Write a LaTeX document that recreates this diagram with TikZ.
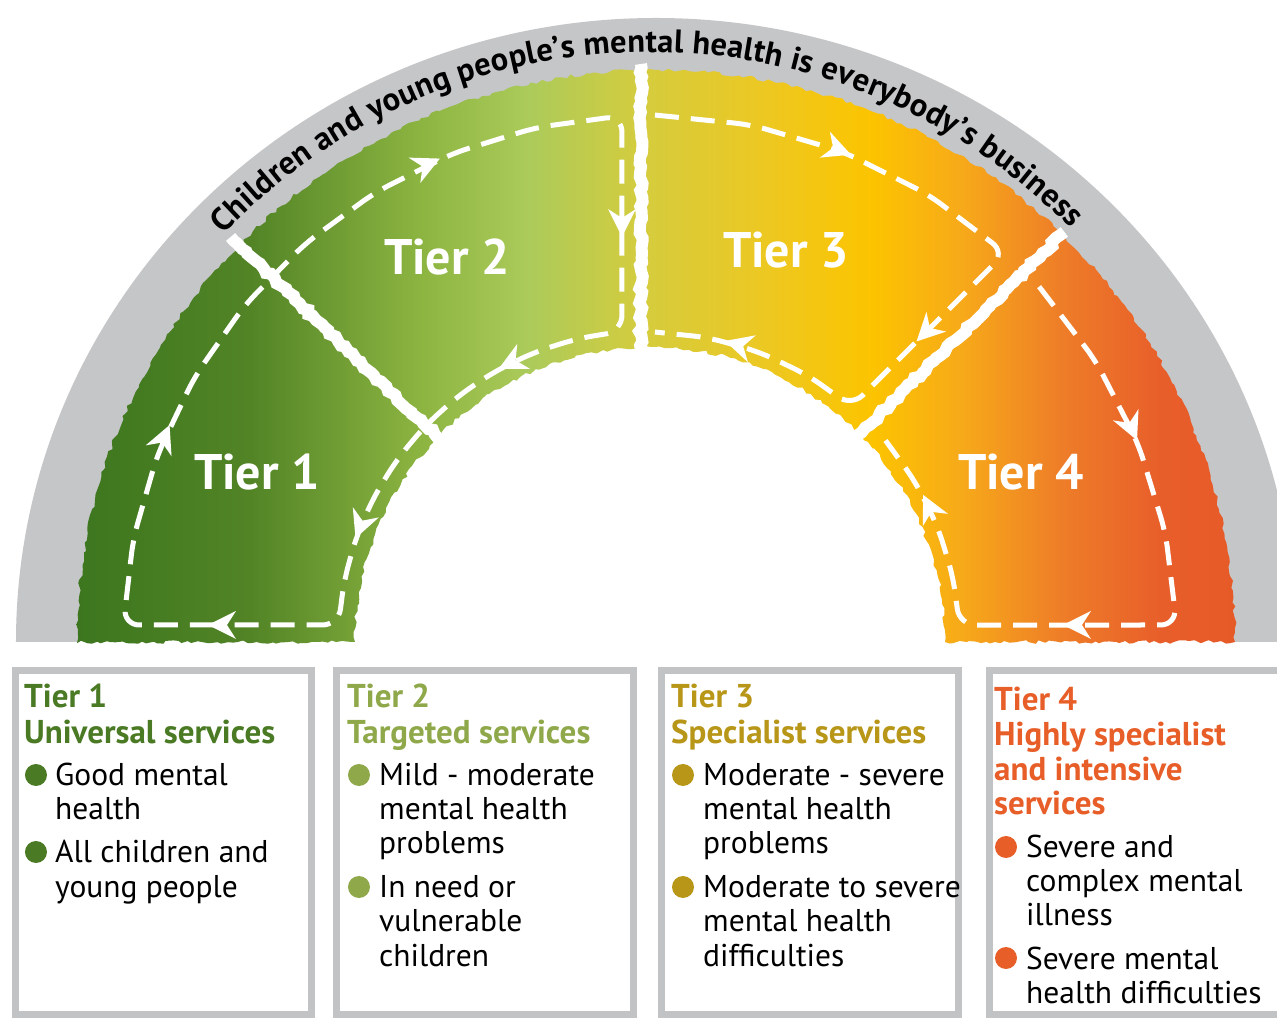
\documentclass[tikz,border=0pt]{standalone}
\usepackage{fontspec}
\setmainfont{PT Sans}
\usetikzlibrary{decorations.text,decorations.pathmorphing}
\definecolor{c0}{RGB}{60,118,30}
\definecolor{c1}{RGB}{82,132,38}
\definecolor{c2}{RGB}{140,180,65}
\definecolor{c3}{RGB}{172,203,90}
\definecolor{c4}{RGB}{212,204,62}
\definecolor{c5}{RGB}{236,200,35}
\definecolor{c6}{RGB}{252,196,0}
\definecolor{c7}{RGB}{247,170,25}
\definecolor{c8}{RGB}{238,125,40}
\definecolor{c9}{RGB}{232,94,42}
\definecolor{c10}{RGB}{230,90,40}
\definecolor{bandgray}{RGB}{197,198,200}
\definecolor{boxgray}{RGB}{194,195,197}
\definecolor{tonecol}{RGB}{74,122,35}
\definecolor{ttwocol}{RGB}{143,168,74}
\definecolor{tthreecol}{RGB}{184,150,24}
\definecolor{tfourcol}{RGB}{232,94,40}
\pgfdeclarehorizontalshading{tiershade}{100bp}{color(0bp)=(c0); color(25bp)=(c0); color(32.47bp)=(c1); color(39.81bp)=(c2); color(44.56bp)=(c3); color(49.31bp)=(c4); color(54.49bp)=(c5); color(59.24bp)=(c6); color(63.13bp)=(c7); color(67.44bp)=(c8); color(71.76bp)=(c9); color(75bp)=(c10); color(100bp)=(c10)}
\tikzset{
  divider/.style={white, line width=12pt},
  loopline/.style={white, line width=5pt, dash pattern=on 24pt off 12pt, rounded corners=16pt},
  arrowhd/.pic={\fill[white] (12,0) -- (-16,14) -- (-7,0) -- (-16,-14) -- cycle;},
  tierlabel/.style={white, font=\fontsize{50}{50}\selectfont\bfseries, inner sep=0},
  boxline/.style={boxgray, line width=7pt},
  headtxt/.style={anchor=base west, inner sep=0, font=\fontsize{33}{33}\selectfont\bfseries},
  bodytxt/.style={anchor=base west, inner sep=0, font=\fontsize{31.5}{31.5}\selectfont},
  rough/.style={decorate, decoration={random steps, segment length=5pt, amplitude=1.8pt}},
}
\begin{document}
\begin{tikzpicture}[x=1pt,y=1pt]
\clip (-650,-377) rectangle (627,642);
\fill[white] (-650,-377) rectangle (627,642);
% grey band
\fill[bandgray] (575,0) -- (646,0) arc[start angle=0,end angle=180,x radius=640,y radius=624] -- (-570,0) arc[start angle=180,end angle=0,x radius=576,y radius=569] -- cycle;
% coloured arch
\shade[shading=tiershade, rough] (295,0) -- (585,0) arc[start angle=0,end angle=180,x radius=579,y radius=572] -- (-295,0) arc[start angle=180,end angle=0,radius=295] -- cycle;
% arc text
\path[decorate, decoration={text along path, text align={fit to path}, text={|\fontsize{32.5}{32.5}\selectfont\bfseries|Children and young people’s mental health is everybody’s business}}] (136.3:590) arc[start angle=136.3, end angle=44.5, radius=590];
% dividers
\draw[divider, rough] (136:288) -- (136:583);
\draw[divider, rough] (-9,290) -- (-9,578);
\draw[divider, rough] (44.7:288) -- (44.7:583);
% dashed loops
\draw[loopline] (-420,17) -- (-526.7,17) \foreach \i in {1,...,8} { -- ({178.15-\i*9.456}:527) } -- (93.05:527) -- (-28,310.7) \foreach \i in {1,...,9} { -- ({95.15+\i*8.175}:312) } -- (-311.5,17) -- cycle;
\draw[loopline] (89.46:527) \foreach \i in {1,...,3} { -- ({89.46-\i*10.465}:527) } -- (47.6:527) -- (49.45:310) \foreach \i in {1,...,3} { -- ({49.45+\i*9.9075}:310) } -- (89.08:310);
\draw[loopline] (42.4:527) \foreach \i in {1,...,3} { -- ({42.4-\i*10.1375}:527) } -- (1.85:527) -- (3.14:310) \foreach \i in {1,...,3} { -- ({3.14+\i*9.3525}:310) } -- (40.55:310);
% arrowheads
\pic[rotate=67] at (157:527) {arrowhd};
\pic[rotate=24.8] at (114.8:527) {arrowhd};
\pic[rotate=-90] at (-28,417) {arrowhd};
\pic[rotate=206.8] at (116.8:312) {arrowhd};
\pic[rotate=248.4] at (158.4:312) {arrowhd};
\pic[rotate=180] at (-430,17) {arrowhd};
\pic[rotate=-21.1] at (68.9:527) {arrowhd};
\pic[rotate=225] at (275,309) {arrowhd};
\pic[rotate=163.8] at (73.8:310) {arrowhd};
\pic[rotate=-66.2] at (23.8:527) {arrowhd};
\pic[rotate=180] at (425,17) {arrowhd};
\pic[rotate=116.1] at (26.1:310) {arrowhd};
% tier labels
\node[tierlabel] (tl1) at (-393,170) {Tier 1};
\node[tierlabel] (tl2) at (-203,385) {Tier 2};
\node[tierlabel] (tl3) at (136,392) {Tier 3};
\node[tierlabel] (tl4) at (371,170) {Tier 4};
% boxes
\draw[boxline] (-634,-29) rectangle (-338,-372);
\draw[boxline] (-313,-29) rectangle (-16,-372);
\draw[boxline] (11,-29) rectangle (308,-372);
\draw[boxline] (339,-29) rectangle (640,-372);
% box 1
\node[headtxt, tonecol] (h1a) at (-626,-66) {Tier 1};
\node[headtxt, tonecol] (h1b) at (-626,-102) {Universal services};
\fill[tonecol] (-614,-133) circle (11);
\fill[tonecol] (-614,-210) circle (11);
\node[bodytxt] (b1a) at (-595,-144) {Good mental};
\node[bodytxt] (b1b) at (-595,-178) {health};
\node[bodytxt] (b1c) at (-595,-221) {All children and};
\node[bodytxt] (b1d) at (-595,-256) {young people};
% box 2
\node[headtxt, ttwocol] (h2a) at (-303,-66) {Tier 2};
\node[headtxt, ttwocol] (h2b) at (-303,-102) {Targeted services};
\fill[ttwocol] (-291,-133) circle (11);
\fill[ttwocol] (-291,-245) circle (11);
\node[bodytxt] (b2a) at (-271,-144) {Mild - moderate};
\node[bodytxt] (b2b) at (-271,-178) {mental health};
\node[bodytxt] (b2c) at (-271,-212) {problems};
\node[bodytxt] (b2d) at (-271,-256) {In need or};
\node[bodytxt] (b2e) at (-271,-290) {vulnerable};
\node[bodytxt] (b2f) at (-271,-324) {children};
% box 3
\node[headtxt, tthreecol] (h3a) at (21,-66) {Tier 3};
\node[headtxt, tthreecol] (h3b) at (21,-102) {Specialist services};
\fill[tthreecol] (33,-133) circle (11);
\fill[tthreecol] (33,-245) circle (11);
\node[bodytxt] (b3a) at (53,-144) {Moderate - severe};
\node[bodytxt] (b3b) at (53,-178) {mental health};
\node[bodytxt] (b3c) at (53,-212) {problems};
\node[bodytxt] (b3d) at (53,-256) {Moderate to severe};
\node[bodytxt] (b3e) at (53,-290) {mental health};
\node[bodytxt] (b3f) at (53,-324) {difficulties};
% box 4
\node[headtxt, tfourcol] (h4a) at (344,-69) {Tier 4};
\node[headtxt, tfourcol] (h4b) at (344,-104) {Highly specialist};
\node[headtxt, tfourcol] (h4c) at (344,-139) {and intensive};
\node[headtxt, tfourcol] (h4d) at (344,-173) {services};
\fill[tfourcol] (356,-205) circle (11);
\fill[tfourcol] (356,-316) circle (11);
\node[bodytxt] (b4a) at (376,-216) {Severe and};
\node[bodytxt] (b4b) at (376,-250) {complex mental};
\node[bodytxt] (b4c) at (376,-284) {illness};
\node[bodytxt] (b4d) at (376,-327) {Severe mental};
\node[bodytxt] (b4e) at (376,-361) {health difficulties};
\end{tikzpicture}
\end{document}
